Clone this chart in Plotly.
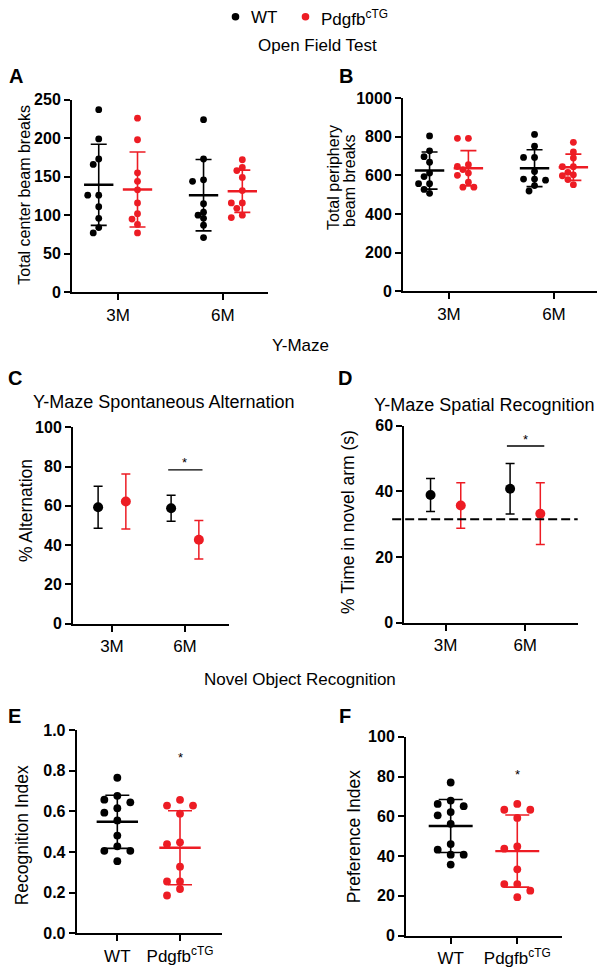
import plotly.graph_objects as go

# ---------------- data ----------------
months = ["3M", "6M"]
genotype_labels = ["WT", "Pdgfb<sup>cTG</sup>"]

# A: Open field, total center beam breaks
center_wt_3m = [237, 199, 173, 166, 126, 126, 111, 96, 84, 77]
center_tg_3m = [226, 198, 155, 144, 133, 116, 102, 95, 88, 77]
center_wt_6m = [224, 173, 146, 144, 115, 104, 100, 96, 87, 71]
center_tg_6m = [172, 162, 158, 149, 132, 116, 116, 109, 100, 97]

# B: Open field, total periphery beam breaks
periph_wt_3m = [804, 727, 697, 668, 612, 594, 557, 557, 527, 507]
periph_tg_3m = [792, 792, 655, 646, 630, 612, 600, 565, 539, 539]
periph_wt_6m = [812, 751, 693, 693, 620, 581, 581, 575, 547, 519]
periph_tg_6m = [771, 722, 690, 645, 645, 616, 603, 598, 578, 552]

# C: Y-maze spontaneous alternation (mean, error)
alt_mean_wt = [59.3, 58.8]
alt_err_wt = [10.7, 6.6]
alt_mean_tg = [62.2, 42.8]
alt_err_tg = [14.0, 9.8]
alt_sig_y = 78.3

# D: Y-maze spatial recognition (mean, error)
spa_mean_wt = [38.9, 40.8]
spa_err_wt = [5.0, 7.7]
spa_mean_tg = [35.7, 33.2]
spa_err_tg = [6.9, 9.4]
spa_chance = 31.5
spa_sig_y = 53.8

# E: Novel object recognition index
recog_wt = [0.766, 0.677, 0.658, 0.645, 0.616, 0.594, 0.556, 0.481, 0.428, 0.406, 0.406, 0.355]
recog_tg = [0.657, 0.629, 0.629, 0.589, 0.448, 0.439, 0.328, 0.255, 0.255, 0.218, 0.186]
recog_star_y = 0.865

# F: Preference index
pref_wt = [77.0, 67.9, 66.2, 65.1, 62.1, 60.5, 56.2, 46.0, 43.2, 40.7, 40.7, 35.7]
pref_tg = [66.2, 63.3, 63.3, 59.2, 44.8, 43.7, 33.3, 25.9, 25.9, 22.6, 19.3]
pref_star_y = 81

# ---------------- style ----------------
BLACK = "#000000"
RED = "#ED1C24"
FONT = "Liberation Sans, Arial, sans-serif"
W, H = 600, 976

# panel geometry in pixels: (x_left, x_right), (y_top, y_bottom)
panels = {
    "A": dict(xpx=(72, 268), ypx=(93.3, 289.3), xr=(-0.44, 1.43), yr=(0, 250), dt=50, fmt=None, ticks=months),
    "B": dict(xpx=(403, 597), ypx=(91.7, 288.3), xr=(-0.438, 1.41), yr=(0, 1000), dt=200, fmt=None, ticks=months),
    "C": dict(xpx=(73, 229), ypx=(426.7, 626.7), xr=(-0.534, 1.603), yr=(0, 100), dt=20, fmt=None, ticks=months),
    "D": dict(xpx=(404.3, 577.7), ypx=(425, 625.7), xr=(-0.52, 1.66), yr=(0, 60), dt=20, fmt=None, ticks=months),
    "E": dict(xpx=(76.7, 221.7), ypx=(735, 941.7), xr=(-0.648, 1.665), yr=(0, 1.0), dt=0.2, fmt=".1f", ticks=genotype_labels),
    "F": dict(xpx=(406, 561.7), ypx=(741.7, 944), xr=(-0.671, 1.667), yr=(0, 100), dt=20, fmt=None, ticks=genotype_labels),
}
order = ["A", "B", "C", "D", "E", "F"]

fig = go.Figure()
layout_axes = {}
for i, key in enumerate(order):
    p = panels[key]
    sfx = "" if i == 0 else str(i + 1)
    p["xa"] = "x" + sfx
    p["ya"] = "y" + sfx
    p["ppx"] = (p["xpx"][1] - p["xpx"][0]) / (p["xr"][1] - p["xr"][0])
    p["ppy"] = (p["ypx"][1] - p["ypx"][0]) / (p["yr"][1] - p["yr"][0])
    layout_axes["xaxis" + sfx] = dict(
        domain=[p["xpx"][0] / W, p["xpx"][1] / W], range=list(p["xr"]), anchor=p["ya"],
        showline=True, linecolor=BLACK, linewidth=2, ticks="outside", ticklen=6, tickwidth=2,
        tickcolor=BLACK, tickmode="array", tickvals=[0, 1], ticktext=p["ticks"],
        tickfont=dict(family=FONT, size=17, color=BLACK), showgrid=False, zeroline=False, fixedrange=True,
    )
    layout_axes["yaxis" + sfx] = dict(
        domain=[1 - p["ypx"][1] / H, 1 - p["ypx"][0] / H], range=list(p["yr"]), anchor=p["xa"],
        showline=True, linecolor=BLACK, linewidth=2, ticks="outside", ticklen=6, tickwidth=2,
        tickcolor=BLACK, tickmode="linear", tick0=0, dtick=p["dt"],
        tickformat=p["fmt"] if p["fmt"] else "",
        tickfont=dict(family=FONT, size=16, color=BLACK, weight="bold"),
        showgrid=False, zeroline=False, fixedrange=True,
    )


def swarm(vals, p, step_px, diam_px):
    idx = sorted(range(len(vals)), key=lambda k: -vals[k])
    placed = []
    offs = [0.0] * len(vals)
    cands = [0]
    for j in range(1, 6):
        cands += [-j, j]
    for k in idx:
        yy = vals[k] * p["ppy"]
        xx = 0.0
        for c in cands:
            xx = c * step_px
            if all((xx - a) ** 2 + (yy - b) ** 2 >= diam_px ** 2 for a, b in placed):
                break
        placed.append((xx, yy))
        offs[k] = xx / p["ppx"]
    return offs


def mean_sd(v):
    m = sum(v) / len(v)
    sd = (sum((a - m) ** 2 for a in v) / (len(v) - 1)) ** 0.5
    return m, sd


def scatter_group(p, vals, xc, color, step_px, diam_px, msize, half_mean, cap_px):
    m, sd = mean_sd(vals)
    fig.add_trace(go.Scatter(
        x=[xc], y=[m], mode="markers", marker=dict(size=1, opacity=0, color=color),
        error_y=dict(type="data", array=[sd], visible=True, color=color, thickness=1.6, width=cap_px),
        xaxis=p["xa"], yaxis=p["ya"], showlegend=False, hoverinfo="skip"))
    fig.add_trace(go.Scatter(
        x=[xc - half_mean, xc + half_mean], y=[m, m], mode="lines",
        line=dict(color=color, width=2.4), xaxis=p["xa"], yaxis=p["ya"],
        showlegend=False, hoverinfo="skip"))
    offs = swarm(vals, p, step_px, diam_px)
    fig.add_trace(go.Scatter(
        x=[xc + o for o in offs], y=vals, mode="markers",
        marker=dict(size=msize, color=color, line=dict(width=0)),
        xaxis=p["xa"], yaxis=p["ya"], showlegend=False, cliponaxis=False))


# A & B
grp_off = 0.185
for key, wt, tg in [("A", [center_wt_3m, center_wt_6m], [center_tg_3m, center_tg_6m]),
                    ("B", [periph_wt_3m, periph_wt_6m], [periph_tg_3m, periph_tg_6m])]:
    p = panels[key]
    for mi in range(len(months)):
        scatter_group(p, wt[mi], mi - grp_off, BLACK, 5.5, 6.0, 6.8, 0.14, 8)
        scatter_group(p, tg[mi], mi + grp_off, RED, 5.5, 6.0, 6.8, 0.14, 8)

# E & F
for key, wt, tg in [("E", recog_wt, recog_tg), ("F", pref_wt, pref_tg)]:
    p = panels[key]
    scatter_group(p, wt, 0, BLACK, 13.0, 7.0, 7.8, 0.33, 12)
    scatter_group(p, tg, 1, RED, 13.0, 7.0, 7.8, 0.33, 12)

# C & D (mean +/- error)
ym_off = 0.19
for key, mw, ew, mt, et in [("C", alt_mean_wt, alt_err_wt, alt_mean_tg, alt_err_tg),
                            ("D", spa_mean_wt, spa_err_wt, spa_mean_tg, spa_err_tg)]:
    p = panels[key]
    xs = list(range(len(months)))
    fig.add_trace(go.Scatter(
        x=[x - ym_off for x in xs], y=mw, mode="markers",
        marker=dict(size=10, color=BLACK),
        error_y=dict(type="data", array=ew, visible=True, color=BLACK, thickness=1.5, width=4.5),
        xaxis=p["xa"], yaxis=p["ya"], showlegend=False))
    fig.add_trace(go.Scatter(
        x=[x + ym_off for x in xs], y=mt, mode="markers",
        marker=dict(size=10, color=RED),
        error_y=dict(type="data", array=et, visible=True, color=RED, thickness=1.5, width=4.5),
        xaxis=p["xa"], yaxis=p["ya"], showlegend=False))

shapes = []
annotations = []

# chance line in D
pD = panels["D"]
shapes.append(dict(type="line", xref=pD["xa"] + " domain", yref=pD["ya"], x0=-0.07, x1=1.0,
                   y0=spa_chance, y1=spa_chance, line=dict(color=BLACK, width=2, dash="9px,4px")))

# significance bars
for key, yv, stary in [("C", alt_sig_y, alt_sig_y + 3.6), ("D", spa_sig_y, spa_sig_y + 2.0)]:
    p = panels[key]
    shapes.append(dict(type="line", xref=p["xa"], yref=p["ya"], x0=1 - ym_off - 0.04, x1=1 + ym_off + 0.05,
                       y0=yv, y1=yv, line=dict(color=BLACK, width=1.3)))
    annotations.append(dict(x=1, y=stary, xref=p["xa"], yref=p["ya"], text="*", showarrow=False,
                            font=dict(family=FONT, size=13, color=BLACK), xanchor="center", yanchor="middle"))
for key, stary in [("E", recog_star_y), ("F", pref_star_y)]:
    p = panels[key]
    annotations.append(dict(x=1, y=stary, xref=p["xa"], yref=p["ya"], text="*", showarrow=False,
                            font=dict(family=FONT, size=13, color=BLACK), xanchor="center", yanchor="middle"))


def pann(text, xpx, ypx, size, bold=False, angle=0, xanchor="center"):
    f = dict(family=FONT, size=size, color=BLACK)
    if bold:
        f["weight"] = "bold"
    annotations.append(dict(x=xpx / W, y=1 - ypx / H, xref="paper", yref="paper", text=text,
                            showarrow=False, font=f, textangle=angle, xanchor=xanchor, yanchor="middle"))


# legend
for cx, col in [(235.5, BLACK), (305.5, RED)]:
    r = 3.8
    shapes.append(dict(type="circle", xref="paper", yref="paper", x0=(cx - r) / W, x1=(cx + r) / W,
                       y0=1 - (9 + r) / H, y1=1 - (9 - r) / H, fillcolor=col, line=dict(width=0)))
pann("WT", 249, 10, 17, xanchor="left")
pann("Pdgfb<sup>cTG</sup>", 319, 10, 17, xanchor="left")

# section titles
pann("Open Field Test", 317, 38, 17)
pann("Y-Maze", 300, 343, 17)
pann("Novel Object Recognition", 300, 683, 17)

# panel letters
for t, x, y in [("A", 16, 69), ("B", 346, 69), ("C", 15, 377), ("D", 345, 377), ("E", 14, 721), ("F", 345, 721)]:
    pann(t, x, y, 20, bold=True)

# subplot titles
pann("Y-Maze Spontaneous Alternation", 164, 401, 18)
pann("Y-Maze Spatial Recognition", 484, 404, 18)

# axis titles
pann("Total center beam breaks", 25, 190, 16, angle=-90)
pann("Total periphery", 334, 173, 16, angle=-90)
pann("beam breaks", 350, 176, 16, angle=-90)
pann("% Alternation", 26, 512, 17.5, angle=-90)
pann("% Time in novel arm (s)", 348, 523, 17.5, angle=-90)
pann("Recognition Index", 22, 842, 17.5, angle=-90)
pann("Preference Index", 354, 843, 17.5, angle=-90)

fig.update_layout(
    width=W, height=H, margin=dict(l=0, r=0, t=0, b=0),
    paper_bgcolor="white", plot_bgcolor="white",
    font=dict(family=FONT, color=BLACK), showlegend=False,
    shapes=shapes, annotations=annotations, **layout_axes,
)

fig.write_html("out.html", config={"displayModeBar": False, "staticPlot": True},
               post_script="document.body.style.margin='0px';document.body.style.padding='0px';document.body.style.overflow='hidden';")
